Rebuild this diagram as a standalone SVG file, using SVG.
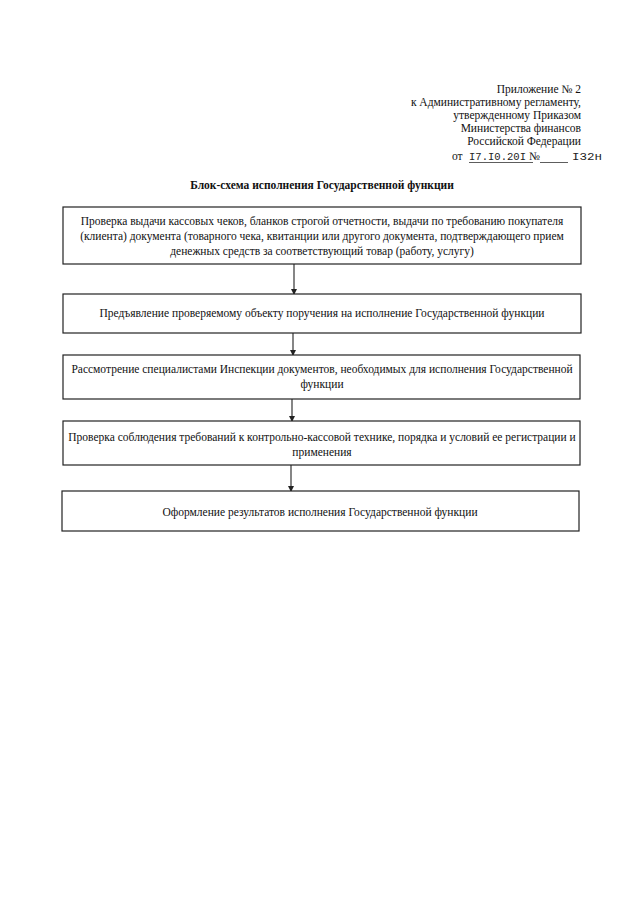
<svg xmlns="http://www.w3.org/2000/svg" width="640" height="905" viewBox="0 0 640 905">
<style>
.t{font-family:"Liberation Serif","Times New Roman",serif;font-size:11.5px;fill:#111}
.h{font-family:"Liberation Serif","Times New Roman",serif;font-size:11.5px;fill:#111;text-anchor:end}
.b{fill:#fff;stroke:#222;stroke-width:1.2}
.c{stroke:#222;stroke-width:1.1;fill:none}
.m{font-family:"Liberation Mono","Courier New",monospace;font-size:11px;fill:#222}
</style>
<defs>
<marker id="ah" markerWidth="6" markerHeight="6" refX="5" refY="3" orient="auto" markerUnits="userSpaceOnUse">
<path d="M0,0 L6,3 L0,6 Z" fill="#222"/>
</marker>
</defs>
<rect width="640" height="905" fill="#fff"/>
<g id="header">
<text class="h" x="581" y="93">Приложение № 2</text>
<text class="h" x="581" y="106">к Административному регламенту,</text>
<text class="h" x="581" y="119">утвержденному Приказом</text>
<text class="h" x="581" y="132">Министерства финансов</text>
<text class="h" x="581" y="145">Российской Федерации</text>
<text class="t" x="452" y="159.5" font-size="11.5">от</text>
<text class="m" x="469" y="159.5" font-size="11" textLength="57" lengthAdjust="spacingAndGlyphs">I7.I0.20I</text>
<text class="t" x="529" y="159.5" font-size="9.5">№</text>
<text class="m" x="572" y="159.5" font-size="12" textLength="30" lengthAdjust="spacingAndGlyphs">I32н</text>
<line x1="469" y1="162.5" x2="533" y2="162.5" stroke="#333" stroke-width="0.8"/>
<line x1="540" y1="162.5" x2="568" y2="162.5" stroke="#333" stroke-width="0.8"/>
</g>
<text id="title" class="t" x="322" y="189" text-anchor="middle" font-weight="bold">Блок-схема исполнения Государственной функции</text>
<g id="connectors">
<line class="c" x1="294" y1="264" x2="294" y2="294" marker-end="url(#ah)"/>
<line class="c" x1="293" y1="333" x2="293" y2="355" marker-end="url(#ah)"/>
<line class="c" x1="292" y1="399" x2="292" y2="421" marker-end="url(#ah)"/>
<line class="c" x1="291" y1="465" x2="291" y2="491" marker-end="url(#ah)"/>
</g>
<g id="n1">
<rect class="b" x="63" y="207" width="518" height="57"/>
<text class="t" x="322" y="225" text-anchor="middle">Проверка выдачи кассовых чеков, бланков строгой отчетности, выдачи по требованию покупателя</text>
<text class="t" x="322" y="240" text-anchor="middle">(клиента) документа (товарного чека, квитанции или другого документа, подтверждающего прием</text>
<text class="t" x="322" y="255" text-anchor="middle">денежных средств за соответствующий товар (работу, услугу)</text>
</g>
<g id="n2">
<rect class="b" x="63" y="294" width="518" height="39"/>
<text class="t" x="322" y="317" text-anchor="middle">Предъявление проверяемому объекту поручения на исполнение Государственной функции</text>
</g>
<g id="n3">
<rect class="b" x="63" y="355" width="517" height="44"/>
<text class="t" x="322" y="373" text-anchor="middle">Рассмотрение специалистами Инспекции документов, необходимых для исполнения Государственной</text>
<text class="t" x="322" y="388" text-anchor="middle">функции</text>
</g>
<g id="n4">
<rect class="b" x="63" y="421" width="517" height="44"/>
<text class="t" x="322" y="441" text-anchor="middle">Проверка соблюдения требований к контрольно-кассовой технике, порядка и условий ее регистрации и</text>
<text class="t" x="322" y="456" text-anchor="middle">применения</text>
</g>
<g id="n5">
<rect class="b" x="62" y="491" width="517" height="40"/>
<text class="t" x="320" y="516" text-anchor="middle">Оформление результатов исполнения Государственной функции</text>
</g>
</svg>
